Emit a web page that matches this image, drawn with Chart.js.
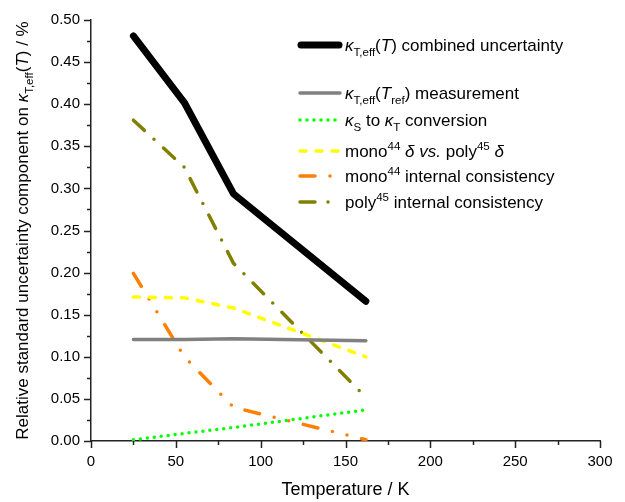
<!DOCTYPE html>
<html>
<head>
<meta charset="utf-8">
<script src="https://cdn.jsdelivr.net/npm/chart.js@4/dist/chart.umd.min.js"></script>
<style>
html,body{margin:0;padding:0;background:#fff;}
canvas{display:block;}
</style>
</head>
<body>
<canvas id="c" width="625" height="502"></canvas>
<script>
// ---- data ----
const temps = [25, 55, 84, 162];
const combined = [0.481, 0.402, 0.2935, 0.166];
const measurement = [0.1205, 0.1205, 0.1215, 0.119];
const conversion = [0.0015, 0.009, 0.016, 0.037];
const monoVsPoly = [0.171, 0.170, 0.158, 0.100];
const monoInternal = [0.199, 0.100, 0.040, 0.0015];
const polyInternal = [0.381, 0.325, 0.211, 0.052];

const xRange = [0, 300];
const xMajorStep = 50, xMinorStep = 25;
const yRange = [0, 0.5];
const yMajorStep = 0.05, yMinorStep = 0.025;

const xTitle = 'Temperature / K';
const FONT = "'Liberation Sans', Arial, sans-serif";

// legend label runs (rich text)
const legendLabels = [
  [{t:'κ',it:1},{t:'T,eff',sub:1},{t:'('},{t:'T',it:1},{t:') combined uncertainty'}],
  [{t:'κ',it:1},{t:'T,eff',sub:1},{t:'('},{t:'T',it:1},{t:'ref',sub:1},{t:') measurement'}],
  [{t:'κ',it:1},{t:'S',sub:1},{t:' to '},{t:'κ',it:1},{t:'T',sub:1},{t:' conversion'}],
  [{t:'mono'},{t:'44',sup:1},{t:' '},{t:'δ',it:1},{t:' '},{t:'vs.',it:1},{t:' poly'},{t:'45',sup:1},{t:' '},{t:'δ',it:1}],
  [{t:'mono'},{t:'44',sup:1},{t:' internal consistency'}],
  [{t:'poly'},{t:'45',sup:1},{t:' internal consistency'}]
];
const yTitleRuns = [{t:'Relative standard uncertainty component on '},{t:'κ',it:1},{t:'T,eff',sub:1},{t:'('},{t:'T',it:1},{t:') / %'}];

const seriesStyle = [
  {c:'#000000', w:7,   dash:[]},
  {c:'#808080', w:3.5, dash:[]},
  {c:'#00ff00', w:3.5, dash:[0,7]},
  {c:'#ffff00', w:3.5, dash:[6,10]},
  {c:'#ff8000', w:3.5, dash:[15,15,0,15,0,15]},
  {c:'#808000', w:3.5, dash:[15,13,0,13]}
];
const seriesValues = [combined, measurement, conversion, monoVsPoly, monoInternal, polyInternal];
const legendRowY = [45, 93, 120, 151, 176, 202];

function pts(vals){ return temps.map((t,i)=>({x:t, y:vals[i]})); }

const datasets = seriesValues.map((vals,i)=>({
  data: pts(vals),
  borderColor: seriesStyle[i].c,
  borderWidth: seriesStyle[i].w,
  borderDash: seriesStyle[i].dash,
  borderCapStyle: 'round',
  borderJoinStyle: 'round',
  pointRadius: 0,
  fill: false,
  tension: 0
}));

function runFont(r, size){
  const s = (r.sub||r.sup) ? size*0.68 : size;
  return (r.it ? 'italic ' : '') + s + 'px ' + FONT;
}
function richWidth(ctx, runs, size){
  let w = 0;
  runs.forEach(r=>{ ctx.font = runFont(r,size); w += ctx.measureText(r.t).width; });
  return w;
}
function drawRich(ctx, runs, x, y, size){
  ctx.textBaseline = 'alphabetic';
  ctx.textAlign = 'left';
  runs.forEach(r=>{
    ctx.font = runFont(r,size);
    let dy = 0;
    if (r.sub) dy = size*0.28;
    if (r.sup) dy = -size*0.42;
    ctx.fillText(r.t, x, y+dy);
    x += ctx.measureText(r.t).width;
  });
}

const decor = {
  id:'decor',
  afterDraw(chart){
    const ctx = chart.ctx;
    const xs = chart.scales.x, ys = chart.scales.y;
    const ca = chart.chartArea;
    ctx.save();
    // tick marks (outward)
    ctx.strokeStyle = '#222';
    ctx.lineWidth = 1.5;
    ctx.lineCap = 'butt';
    for (let v = xRange[0]; v <= xRange[1] + 1e-9; v += xMinorStep){
      const px = Math.round(xs.getPixelForValue(v)) + 0.5;
      const major = Math.abs(v % xMajorStep) < 1e-9;
      ctx.beginPath();
      ctx.moveTo(px, ca.bottom);
      ctx.lineTo(px, ca.bottom + (major ? 7 : 4));
      ctx.stroke();
    }
    for (let k = 0; k <= Math.round((yRange[1]-yRange[0])/yMinorStep); k++){
      const v = yRange[0] + k*yMinorStep;
      const py = Math.round(ys.getPixelForValue(v)) + 0.5;
      const major = k % 2 === 0;
      ctx.beginPath();
      ctx.moveTo(ca.left, py);
      ctx.lineTo(ca.left - (major ? 7 : 4), py);
      ctx.stroke();
    }
    // axis titles
    ctx.fillStyle = '#000';
    ctx.font = '18px ' + FONT;
    ctx.textAlign = 'center';
    ctx.textBaseline = 'middle';
    ctx.fillText(xTitle, (ca.left + ca.right)/2, 490);
    const ySize = 17;
    const yw = richWidth(ctx, yTitleRuns, ySize);
    ctx.save();
    ctx.translate(28, (ca.top + ca.bottom)/2);
    ctx.rotate(-Math.PI/2);
    drawRich(ctx, yTitleRuns, -yw/2, 0, ySize);
    ctx.restore();
    // legend
    legendLabels.forEach((runs,i)=>{
      const st = seriesStyle[i];
      const y = legendRowY[i];
      ctx.save();
      ctx.strokeStyle = st.c;
      ctx.lineWidth = st.w;
      ctx.lineCap = 'round';
      ctx.setLineDash(st.dash);
      ctx.beginPath();
      const x0 = st.w > 5 ? 301 : 300;
      ctx.moveTo(x0, y);
      ctx.lineTo(st.w > 5 ? 339 : 340, y);
      ctx.stroke();
      ctx.restore();
      ctx.fillStyle = '#000';
      drawRich(ctx, runs, 345, y + 6, 17);
    });
    ctx.restore();
  }
};

new Chart(document.getElementById('c'), {
  type: 'line',
  data: { datasets },
  options: {
    responsive: false,
    animation: false,
    devicePixelRatio: 1,
    layout: { padding: { left: 0, top: 19, right: 25, bottom: 0 } },
    plugins: { legend: { display: false }, tooltip: { enabled: false } },
    scales: {
      x: {
        type: 'linear',
        min: xRange[0], max: xRange[1],
        grid: { display: false, drawTicks: false },
        border: { display: true, color: '#222', width: 1.5 },
        ticks: {
          stepSize: xMajorStep,
          padding: 12,
          color: '#000',
          font: { family: FONT, size: 15 },
          maxRotation: 0,
          callback: v => String(v)
        },
        afterFit: s => { s.height = 61; }
      },
      y: {
        type: 'linear',
        min: yRange[0], max: yRange[1],
        grid: { display: false, drawTicks: false },
        border: { display: true, color: '#222', width: 1.5 },
        ticks: {
          stepSize: yMajorStep,
          padding: 11,
          color: '#000',
          font: { family: FONT, size: 15 },
          callback: v => Number(v).toFixed(2)
        },
        afterFit: s => { s.width = 91; }
      }
    }
  },
  plugins: [decor]
});
</script>
</body>
</html>
